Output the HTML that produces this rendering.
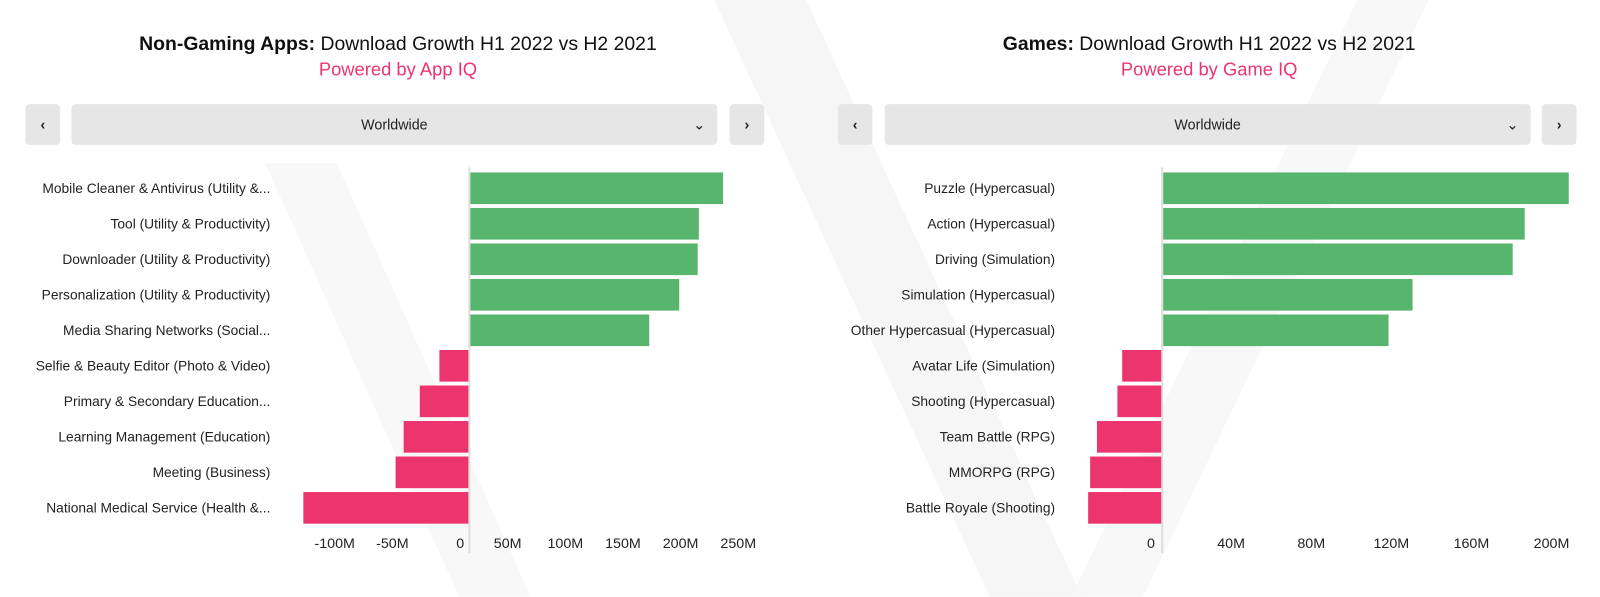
<!DOCTYPE html>
<html><head><meta charset="utf-8">
<style>
body{margin:0;width:1600px;height:597px;background:#fff;font-family:"Liberation Sans",sans-serif;overflow:hidden;position:relative}
#wrap{position:absolute;left:0;top:0;width:1568px;height:585px;transform:scale(1.0204);transform-origin:0 0}
.t{position:absolute;text-align:center;font-size:19px;color:#111;width:780px}
.s{position:absolute;text-align:center;font-size:18px;color:#ec356e;width:780px}
.btn,.dd{position:absolute;top:102px;height:40px;background:#e6e6e6;border-radius:4px;font-size:14px;color:#222;display:flex;align-items:center;justify-content:center}
.btn{width:34px;font-weight:bold}
svg{position:absolute;left:0;top:0}
</style></head><body>
<div id="wrap">
<svg width="1568" height="585">
<polygon points="700,0 790,0 1060,585 970,585" fill="#f6f6f6"/>
<polygon points="260,160 330,160 520,585 450,585" fill="#f8f8f8"/>
<polygon points="1330,0 1400,0 1120,585 1050,585" fill="#f8f8f8"/>
</svg>
<div class="t" style="left:0;top:33px"><b>Non-Gaming Apps:</b> Download Growth H1 2022 vs H2 2021</div>
<div class="s" style="left:0;top:58px">Powered by App IQ</div>
<div class="t" style="left:795px;top:33px"><b>Games:</b> Download Growth H1 2022 vs H2 2021</div>
<div class="s" style="left:795px;top:58px">Powered by Game IQ</div>
<div class="btn" style="left:25px">‹</div>
<div class="dd" style="left:70px;width:633px">Worldwide<span style="position:absolute;right:12px">⌄</span></div>
<div class="btn" style="left:715px">›</div>
<div class="btn" style="left:821px">‹</div>
<div class="dd" style="left:867px;width:633px">Worldwide<span style="position:absolute;right:12px">⌄</span></div>
<div class="btn" style="left:1511px">›</div>
<svg id="c" width="1568" height="585"></svg>
</div>
<script>
const leftCats=["Mobile Cleaner & Antivirus (Utility &...","Tool (Utility & Productivity)","Downloader (Utility & Productivity)","Personalization (Utility & Productivity)","Media Sharing Networks (Social...","Selfie & Beauty Editor (Photo & Video)","Primary & Secondary Education...","Learning Management (Education)","Meeting (Business)","National Medical Service (Health &..."];
const leftVals=[220,199,198,182,156,-26,-43,-57,-64,-144];
const leftTicks=[-100,-50,0,50,100,150,200,250];
const leftTickLabels=["-100M","-50M","0","50M","100M","150M","200M","250M"];
const rightCats=["Puzzle (Hypercasual)","Action (Hypercasual)","Driving (Simulation)","Simulation (Hypercasual)","Other Hypercasual (Hypercasual)","Avatar Life (Simulation)","Shooting (Hypercasual)","Team Battle (RPG)","MMORPG (RPG)","Battle Royale (Shooting)"];
const rightVals=[203,181,175,125,113,-20,-22.4,-32.6,-36,-37];
const rightTicks=[0,40,80,120,160,200];
const rightTickLabels=["0","40M","80M","120M","160M","200M"];
const svg=document.getElementById('c');
const NS="http://www.w3.org/2000/svg";
function mk(t,a){const e=document.createElementNS(NS,t);for(const k in a)e.setAttribute(k,a[k]);svg.appendChild(e);return e;}
function draw(side,cats,vals,ticks,labels,zero,scale,labelOff,catX){
  const x=v=>zero+v*scale;
  const y=i=>169+i*34.8;
  vals.forEach((v,i)=>{
    const r=mk('rect',{x:Math.min(x(v),zero),y:y(i),width:Math.abs(x(v)-zero),height:31,fill:v>=0?'#58b56d':'#ec356e'});
    
    
    const t=mk('text',{x:catX,y:y(i)+20,'text-anchor':'end','font-size':'13.5',fill:'#222'});
    t.textContent=cats[i];
    
    
  });
  const ax=mk('line',{x1:zero,x2:zero,y1:164,y2:542,stroke:'#ddd','stroke-width':2});
  
  
  ticks.forEach((v,i)=>{
    const t=mk('text',{x:x(v)+(v===0&&side==='left'?labelOff+10:labelOff),y:537,'text-anchor':'middle','font-size':'14',fill:'#222'});
    t.textContent=labels[i];
    
    
  });
}
draw('left',leftCats,leftVals,leftTicks,leftTickLabels,460,1.13,-19,265);
draw('right',rightCats,rightVals,rightTicks,rightTickLabels,1139,1.9625,-11,1034);
</script>
</body></html>
